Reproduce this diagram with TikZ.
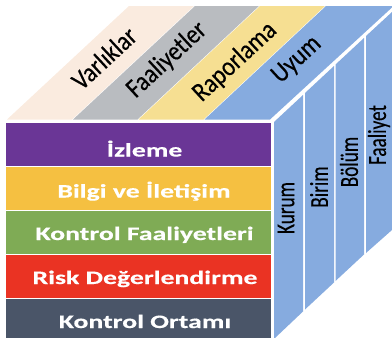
\documentclass[tikz,border=0pt]{standalone}
\usepackage{fontspec}
\setmainfont{Carlito}
\newfontfamily\bandfont[FakeStretch=1.46,FakeBold=0.4]{Carlito Bold}
\newfontfamily\topfont[FakeStretch=0.87,FakeBold=0.4]{Carlito}
\newfontfamily\sidefont[FakeStretch=0.74,FakeBold=0.3]{Carlito}
\definecolor{cPurple}{HTML}{6A3696}
\definecolor{cYellow}{HTML}{F5C041}
\definecolor{cGreen}{HTML}{7FAB55}
\definecolor{cRed}{HTML}{EA3323}
\definecolor{cSlate}{HTML}{4A5568}
\definecolor{cPeach}{HTML}{FAEBDF}
\definecolor{cGray}{HTML}{B9BCC0}
\definecolor{cButter}{HTML}{F6DF92}
\definecolor{cBlue}{HTML}{86ABDF}
\tikzset{
  bandtext/.style={text=white,font=\bandfont\fontsize{19}{21}\selectfont,inner sep=0pt,anchor=base},
  toptext/.style={text=black,font=\topfont\fontsize{27}{30}\selectfont,rotate=42.8,inner sep=0pt},
  sidetext/.style={text=black,font=\sidefont\fontsize{26}{28}\selectfont,rotate=90,inner sep=0pt}
}
\begin{document}
\begin{tikzpicture}[x=1pt,y=-1pt]
\useasboundingbox (0,0) rectangle (392,338);
% top face
\fill[cPeach] (7,119.5) -- (129,6) -- (194,6) -- (72,119.5) -- cycle;
\fill[cGray] (73,119.5) -- (195,6) -- (259,6) -- (137.5,119.5) -- cycle;
\fill[cButter] (138.5,119.5) -- (260,6) -- (325,6) -- (203.5,119.5) -- cycle;
\fill[cBlue] (204.5,119.5) -- (326,6) -- (392,6) -- (392,7.5) -- (270,119.5) -- cycle;
% front face
\fill[cPurple] (6,123) rectangle (271,166);
\fill[cYellow] (6,167) rectangle (271,210);
\fill[cGreen] (6,211) rectangle (271,254);
\fill[cRed] (6,255) rectangle (271,298);
\fill[cSlate] (6,299) rectangle (271,338);
% side face
\fill[cBlue] (274,122) -- (303,95) -- (303,311.5) -- (275,338) -- (274,338) -- cycle;
\fill[cBlue] (305,93) -- (334,66) -- (334,282.5) -- (305,309.5) -- cycle;
\fill[cBlue] (335.5,64.5) -- (364,38) -- (364,254.5) -- (335.5,281) -- cycle;
\fill[cBlue] (366,36) -- (392,12) -- (392,230) -- (366,253) -- cycle;
% labels
\node[bandtext] (izleme) at (144.5,156.5) {İzleme};
\node[bandtext] (bilgi) at (144,197.5) {Bilgi ve İletişim};
\node[bandtext] (kontrol) at (144.5,240) {Kontrol Faaliyetleri};
\node[bandtext] (risk) at (145,284) {Risk Değerlendirme};
\node[bandtext] (ortam) at (145,328) {Kontrol Ortamı};
\node[toptext] (varlik) at (104,58) {Varlıklar};
\node[toptext] (faal) at (167,60) {Faaliyetler};
\node[toptext] (rapor) at (235,62) {Raporlama};
\node[toptext] (uyum) at (297,60) {Uyum};
\node[sidetext] (kurum) at (286,208) {Kurum};
\node[sidetext] (birim) at (319,187) {Birim};
\node[sidetext] (bolum) at (349,162) {Bölüm};
\node[sidetext] (faaliyet) at (379,135) {Faaliyet};
\end{tikzpicture}
\end{document}
